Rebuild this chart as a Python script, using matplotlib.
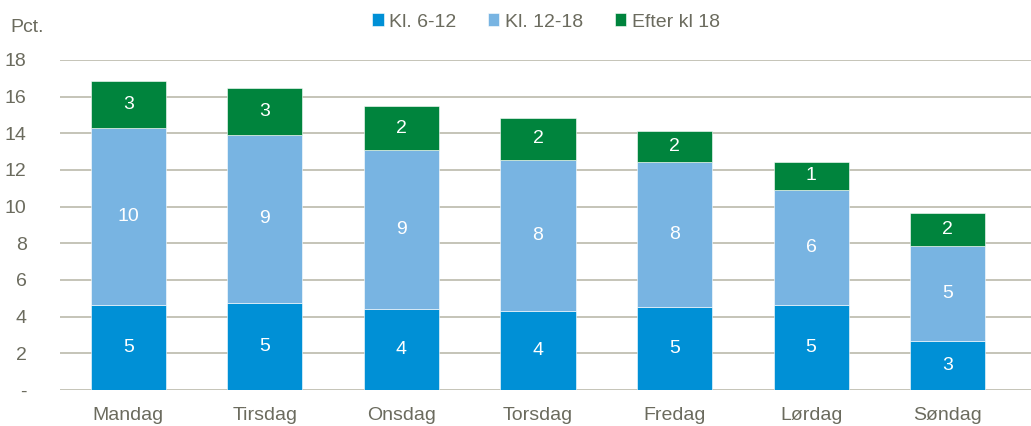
import matplotlib
matplotlib.use("Agg")
import matplotlib.pyplot as plt
import numpy as np

days = ["Mandag", "Tirsdag", "Onsdag", "Torsdag", "Fredag", "Lørdag", "Søndag"]
kl_6_12 = [4.65, 4.76, 4.43, 4.33, 4.54, 4.65, 2.69]
kl_12_18 = [9.63, 9.17, 8.65, 8.20, 7.91, 6.28, 5.14]
efter_18 = [2.59, 2.56, 2.41, 2.33, 1.70, 1.49, 1.84]

series = [
    ("Kl. 6-12", kl_6_12, "#0090d6"),
    ("Kl. 12-18", kl_12_18, "#78b4e2"),
    ("Efter kl 18", efter_18, "#00843d"),
]

plt.rcParams["font.family"] = ["Liberation Sans", "DejaVu Sans"]
txt_col = "#6b6b5e"

fig = plt.figure(figsize=(10.31, 4.26), dpi=100)
ax = fig.add_axes([60 / 1031, 36 / 426, 1 - 60 / 1031, (390 - 60) / 426])

x = np.arange(len(days))
bottom = np.zeros(len(days))
handles = []
for name, vals, col in series:
    vals = np.array(vals)
    b = ax.bar(x, vals, 0.55, bottom=bottom, color=col, label=name,
               edgecolor="white", linewidth=0.4, zorder=3)
    handles.append(b)
    for xi, v, b0 in zip(x, vals, bottom):
        ax.text(xi, b0 + v / 2, f"{v:.0f}", ha="center", va="center",
                color="white", fontsize=14, zorder=4)
    bottom += vals

ax.set_xlim(-0.5, 6.61)
ax.set_ylim(0, 18)
ax.set_yticks(range(0, 19, 2))
ax.set_yticklabels(["-"] + [str(v) for v in range(2, 19, 2)])
ax.yaxis.grid(True, color="#c0bfb2", linewidth=1.3, zorder=0)
ax.set_axisbelow(True)
ax.tick_params(axis="both", length=0, labelsize=14, colors=txt_col)
ax.tick_params(axis="y", pad=24)
ax.tick_params(axis="x", pad=12)
ax.set_xticks(x)
ax.set_xticklabels(days)
for s in ax.spines.values():
    s.set_visible(False)

fig.text(10 / 1031, 1 - 27 / 426, "Pct.", fontsize=14, color=txt_col, va="center")
fig.legend(handles=handles, loc="center", bbox_to_anchor=(546 / 1031, 1 - 22 / 426),
           ncol=3, frameon=False, fontsize=14, labelcolor=txt_col,
           handlelength=0.6, handleheight=0.6, handletextpad=0.3, columnspacing=1.6)

fig.savefig("out.png", dpi=100)
